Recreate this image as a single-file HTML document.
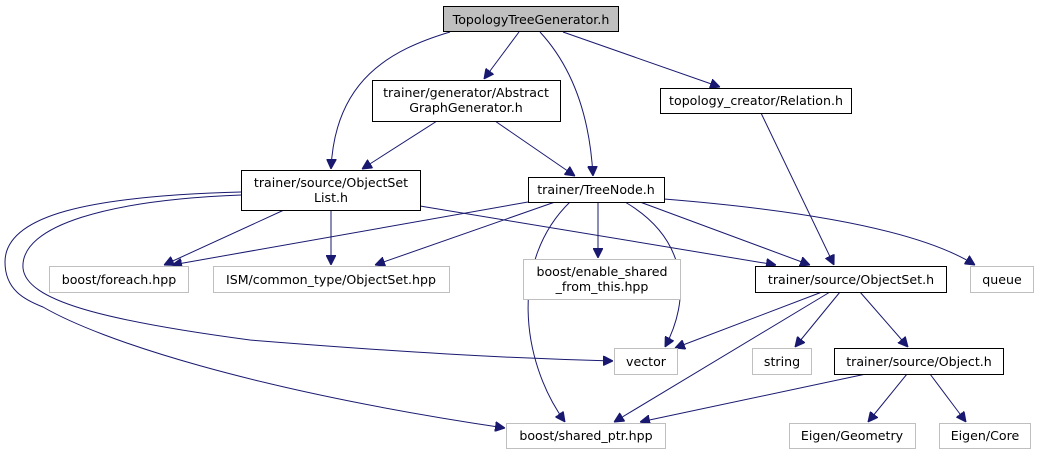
<!DOCTYPE html>
<html><head><meta charset="utf-8"><style>
html,body{margin:0;padding:0;background:#fff;}
svg{display:block;}
text{font-family:"DejaVu Sans","Liberation Sans",sans-serif;font-size:12.6px;fill:#000;}
</style></head><body>
<svg width="1038" height="455" viewBox="0 0 1038 455" xmlns="http://www.w3.org/2000/svg">
<defs>
<marker id="a" viewBox="0 0 10 10" refX="10" refY="5" markerWidth="10" markerHeight="10" markerUnits="userSpaceOnUse" orient="auto">
<path d="M0,0 L10,5 L0,10 z" fill="#191970" stroke="#191970"/>
</marker>
</defs>
<g fill="none" stroke="#191970" stroke-width="1" marker-end="url(#a)">
<path d="M450,32 C390,50 335,80 331,169"/>
<path d="M519,32 L484,79"/>
<path d="M540,32 C575,70 590,120 593,176"/>
<path d="M563,32 L720,87"/>
<path d="M437,121 L362,169"/>
<path d="M495,121 L575,176"/>
<path d="M761,113 L834,265"/>
<path d="M284,210 L164,265"/>
<path d="M331,210 L331,265"/>
<path d="M420,206 L776,265"/>
<path d="M241,195 C110,200 20,225 23,268 C26,300 100,320 250,340 C400,352 500,358 613,361"/>
<path d="M241,192 C90,196 5,215 5,262 C5,290 25,300 43,307 C100,340 250,390 505,428"/>
<path d="M528,202 L172,265"/>
<path d="M555,202 L375,265"/>
<path d="M598,202 L598,258"/>
<path d="M625,202 C690,240 690,300 665,347"/>
<path d="M640,202 L810,265"/>
<path d="M664,199 C800,210 920,230 975,265"/>
<path d="M570,202 C510,260 520,360 565,422"/>
<path d="M822,292 L675,348"/>
<path d="M830,292 L614,422"/>
<path d="M840,292 L795,347"/>
<path d="M860,292 L908,347"/>
<path d="M866,374 L640,422"/>
<path d="M907,374 L868,422"/>
<path d="M930,374 L966,422"/>
</g>
<g stroke-width="1">
<rect x="443.5" y="6.5" width="175" height="25" fill="#bfbfbf" stroke="#000"/>
<rect x="372.5" y="80.5" width="188" height="41" fill="#fff" stroke="#000"/>
<rect x="660.5" y="88.5" width="191" height="25" fill="#fff" stroke="#000"/>
<rect x="241.5" y="170.5" width="179" height="40" fill="#fff" stroke="#000"/>
<rect x="528.5" y="177.5" width="136" height="25" fill="#fff" stroke="#000"/>
<rect x="49.5" y="266.5" width="139" height="26" fill="#fff" stroke="#bfbfbf"/>
<rect x="213.5" y="266.5" width="236" height="26" fill="#fff" stroke="#bfbfbf"/>
<rect x="523.5" y="259.5" width="157" height="40" fill="#fff" stroke="#bfbfbf"/>
<rect x="755.5" y="266.5" width="191" height="26" fill="#fff" stroke="#000"/>
<rect x="970.5" y="266.5" width="63" height="26" fill="#fff" stroke="#bfbfbf"/>
<rect x="614.5" y="348.5" width="63" height="26" fill="#fff" stroke="#bfbfbf"/>
<rect x="752.5" y="348.5" width="59" height="26" fill="#fff" stroke="#bfbfbf"/>
<rect x="834.5" y="348.5" width="169" height="26" fill="#fff" stroke="#000"/>
<rect x="506.5" y="423.5" width="159" height="25" fill="#fff" stroke="#bfbfbf"/>
<rect x="789.5" y="423.5" width="126" height="25" fill="#fff" stroke="#bfbfbf"/>
<rect x="939.5" y="423.5" width="91" height="25" fill="#fff" stroke="#bfbfbf"/>
</g>
<g text-anchor="middle">
<text x="531" y="24">TopologyTreeGenerator.h</text>
<text x="466" y="97">trainer/generator/Abstract</text>
<text x="466" y="112">GraphGenerator.h</text>
<text x="756" y="105">topology_creator/Relation.h</text>
<text x="331" y="187">trainer/source/ObjectSet</text>
<text x="331" y="202">List.h</text>
<text x="596" y="194">trainer/TreeNode.h</text>
<text x="119" y="284">boost/foreach.hpp</text>
<text x="331" y="284">ISM/common_type/ObjectSet.hpp</text>
<text x="602" y="276">boost/enable_shared</text>
<text x="602" y="291">_from_this.hpp</text>
<text x="851" y="284">trainer/source/ObjectSet.h</text>
<text x="1002" y="284">queue</text>
<text x="646" y="366">vector</text>
<text x="782" y="366">string</text>
<text x="919" y="366">trainer/source/Object.h</text>
<text x="586" y="440">boost/shared_ptr.hpp</text>
<text x="852" y="440">Eigen/Geometry</text>
<text x="985" y="440">Eigen/Core</text>
</g>
</svg>
</body></html>
